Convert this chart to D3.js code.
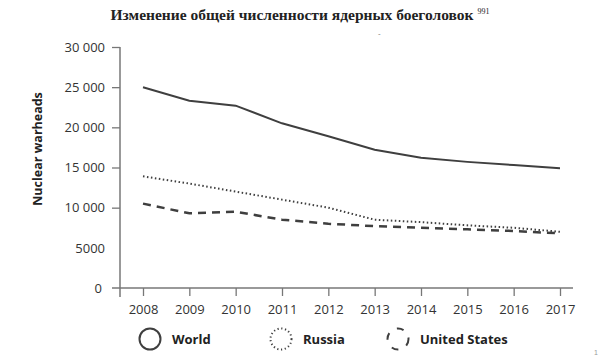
<!DOCTYPE html>
<html><head><meta charset="utf-8">
<script src="https://cdn.jsdelivr.net/npm/d3@7"></script>
<style>body{margin:0;background:#fff}svg{display:block}</style>
</head><body>
<svg id="c" width="607" height="362"></svg>
<script>
const years = [2008,2009,2010,2011,2012,2013,2014,2015,2016,2017];
const world = [25000,23300,22700,20500,18900,17200,16200,15700,15300,14900];
const russia = [13900,13000,12000,11000,10000,8500,8200,7800,7500,7000];
const usa = [10500,9300,9500,8500,8000,7700,7500,7300,7100,6800];
const yTicks = [0,5000,10000,15000,20000,25000,30000];
const yTickLabels = ["0","5000","10 000","15 000","20 000","25 000","30 000"];
const seriesNames = ["World","Russia","United States"];

const svg = d3.select("#c");
const col = "#3f3f3f";
const x = d3.scalePoint().domain(years).range([143,560]);
const y = d3.scaleLinear().domain([0,30000]).range([288,47]);

// title
const t = svg.append("text").attr("x",300).attr("y",20).attr("text-anchor","middle")
  .attr("font-family","Liberation Serif").attr("font-weight","bold").attr("font-size",15.5).attr("fill","#222");
t.append("tspan").text("Изменение общей численности ядерных боеголовок ");
t.append("tspan").attr("font-size",8).attr("font-weight","normal").attr("dy",-6).text("991");
svg.append("text").attr("x",378).attr("y",36).attr("font-size",8).attr("fill","#777").attr("font-family","Liberation Sans").text("-");
svg.append("text").attr("x",594).attr("y",355).attr("font-size",7).attr("fill","#999").attr("font-family","Liberation Sans").text("1");

// axes
const yAxis = d3.axisLeft(y).tickValues(yTicks).tickSize(8).tickFormat((d,i)=>yTickLabels[i]);
const gy = svg.append("g").attr("transform","translate(120,0)").call(yAxis);
gy.select(".domain").attr("d","M0,47V297");
const xAxis = d3.axisBottom(x).tickSize(8).tickFormat(d3.format("d"));
const gx = svg.append("g").attr("transform","translate(0,288)").call(xAxis);
gx.select(".domain").attr("d","M112,0H573");
[gx,gy].forEach(g=>{
  g.selectAll(".domain").attr("stroke","#777").attr("stroke-width",1.5);
  g.selectAll(".tick line").attr("stroke","#777").attr("stroke-width",1.3);
  g.selectAll("text").attr("font-family","Open Sans").attr("font-size",13).attr("fill","#333");
});
gx.selectAll(".tick line").attr("y2",8);
gx.selectAll("text").attr("dy","1.15em");
gy.selectAll("text").attr("x",-15);
gy.selectAll(".tick").filter(d=>d===0||d===5000).select("line").remove();
gy.selectAll(".tick").filter(d=>d===0).select("text").attr("x",-18);

svg.append("text").attr("transform","translate(42,149) rotate(-90)").attr("text-anchor","middle")
  .attr("font-family","Open Sans").attr("font-weight","bold").attr("font-size",12.5).attr("fill","#222")
  .text("Nuclear warheads");

const line = d3.line().x((d,i)=>x(years[i])).y(d=>y(d));
const styles = [
  {data:world, dash:null, w:2},
  {data:russia, dash:"1.5,2.5", w:2},
  {data:usa, dash:"8,6", w:2.5}
];
styles.forEach(s=>{
  svg.append("path").datum(s.data).attr("d",line).attr("fill","none")
    .attr("stroke",col).attr("stroke-width",s.w).attr("stroke-dasharray",s.dash);
});

// legend
const lx = [150,281,398];
seriesNames.forEach((n,i)=>{
  svg.append("circle").attr("cx",lx[i]).attr("cy",339).attr("r",10.5).attr("fill","none")
    .attr("stroke",col).attr("stroke-width",2)
    .attr("stroke-dasharray",i===0?null:(i===1?"1.2,2.6":"7,9"));
  svg.append("text").attr("x",lx[i]+22).attr("y",344).attr("font-family","Open Sans")
    .attr("font-weight","bold").attr("font-size",13).attr("fill","#222").text(n);
});
</script>
</body></html>
